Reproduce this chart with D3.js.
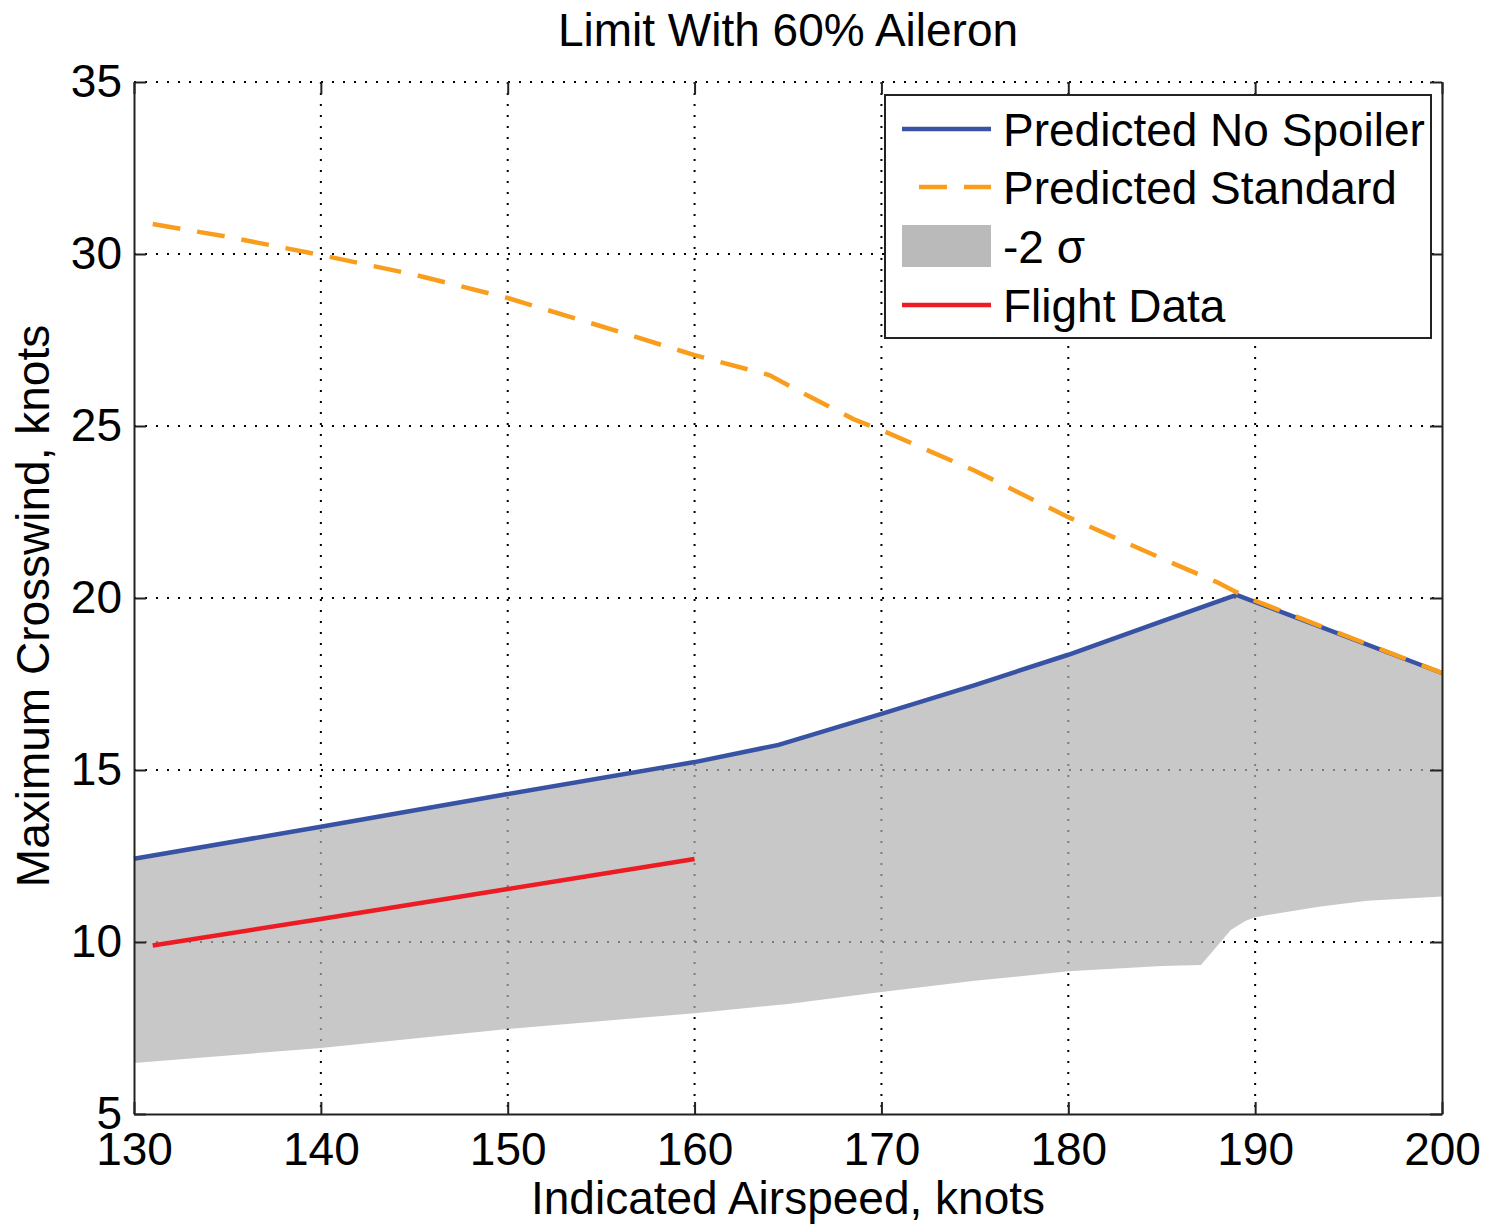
<!DOCTYPE html>
<html>
<head>
<meta charset="utf-8">
<script src="https://cdn.jsdelivr.net/npm/d3@7"></script>
<style>
  body { margin: 0; background: #fff; }
  text { font-family: "Liberation Sans", Arial, Helvetica, sans-serif; fill: #000; }
</style>
</head>
<body>
<script>
var width = 1486;
var height = 1225;

// chart values
var xTicks = [130, 140, 150, 160, 170, 180, 190, 200];
var yTicks = [5, 10, 15, 20, 25, 30, 35];

var noSpoilerSpeed = [130, 140, 150, 160, 164.5, 170, 175, 180, 185, 189, 200];
var noSpoiler      = [12.42, 13.35, 14.3, 15.23, 15.73, 16.63, 17.47, 18.35, 19.32, 20.09, 17.82];

var standardSpeed = [131, 135, 140, 145, 150, 155, 160, 164, 166, 168.5, 170, 175, 180, 185, 188, 189, 190, 200];
var standard      = [30.87, 30.5, 29.97, 29.4, 28.72, 27.9, 27.06, 26.48, 25.9, 25.2, 24.88, 23.7, 22.35, 21.15, 20.45, 20.17, 19.92, 17.82];

var sigmaLowSpeed = [130, 140, 150, 160, 165, 170, 175, 180, 185, 187.1, 188.7, 189.1, 189.5, 190, 191.5, 193.5, 196, 200];
var sigmaLow      = [6.48, 6.92, 7.47, 7.93, 8.2, 8.55, 8.87, 9.15, 9.3, 9.33, 10.35, 10.49, 10.62, 10.72, 10.86, 11.03, 11.2, 11.32];

var flightSpeed = [131, 140, 150, 160];
var flight      = [9.9, 10.67, 11.54, 12.41];

var legendNames = ["Predicted No Spoiler", "Predicted Standard", "-2 \u03c3", "Flight Data"];

var margin = {left: 134, right: 44, top: 82, bottom: 111};
var iw = width - margin.left - margin.right;
var ih = height - margin.top - margin.bottom;

var blue = "#3953a4", orange = "#f99d1c", red = "#ed1c24";

var svg = d3.select("body").append("svg")
  .attr("width", width)
  .attr("height", height);

var g = svg.append("g")
  .attr("transform", "translate(" + margin.left + "," + margin.top + ")");

var x = d3.scaleLinear().domain([130, 200]).range([0, iw]);
var y = d3.scaleLinear().domain([5, 35]).range([ih, 0]);

// grid (under the shaded band)
var grid = g.append("g").attr("class", "grid");
grid.selectAll("line.v").data(xTicks.slice(1, -1)).enter().append("line")
  .attr("x1", function(d) { return x(d); })
  .attr("x2", function(d) { return x(d); })
  .attr("y1", 0).attr("y2", ih);
grid.selectAll("line.h").data(yTicks.slice(1)).enter().append("line")
  .attr("y1", function(d) { return y(d); })
  .attr("y2", function(d) { return y(d); })
  .attr("x1", 0).attr("x2", iw);
grid.selectAll("line")
  .attr("stroke", "#000")
  .attr("stroke-width", 2)
  .attr("stroke-dasharray", "2,9");

// -2 sigma band
var line = d3.line()
  .x(function(d) { return x(d[0]); })
  .y(function(d) { return y(d[1]); });

var upperPts = d3.zip(noSpoilerSpeed, noSpoiler);
var lowerPts = d3.zip(sigmaLowSpeed, sigmaLow).reverse();
g.append("path")
  .attr("d", line(upperPts.concat(lowerPts)) + "Z")
  .attr("fill", "#b0b0b0")
  .attr("fill-opacity", 0.7);

// lines
g.append("path")
  .attr("d", line(upperPts))
  .attr("fill", "none")
  .attr("stroke", blue)
  .attr("stroke-width", 4.5);

g.append("path")
  .attr("d", line(d3.zip(flightSpeed, flight)))
  .attr("fill", "none")
  .attr("stroke", red)
  .attr("stroke-width", 4.5);

g.append("path")
  .attr("d", line(d3.zip(standardSpeed, standard)))
  .attr("fill", "none")
  .attr("stroke", orange)
  .attr("stroke-width", 4.5)
  .attr("stroke-dasharray", "28,17");

// axes
var fontSize = 46;

var xAxis = g.append("g")
  .attr("transform", "translate(0," + ih + ")")
  .call(d3.axisBottom(x).tickValues(xTicks).tickSize(-12).tickSizeOuter(0).tickPadding(18));

var yAxis = g.append("g")
  .call(d3.axisLeft(y).tickValues(yTicks).tickSize(-12).tickSizeOuter(0).tickPadding(12));

var topAxis = g.append("g")
  .call(d3.axisTop(x).tickValues(xTicks).tickSize(-12).tickFormat(""));
topAxis.select(".domain").remove();

var rightAxis = g.append("g")
  .attr("transform", "translate(" + iw + ",0)")
  .call(d3.axisRight(y).tickValues(yTicks).tickSize(-12).tickSizeOuter(0).tickFormat(""));

[xAxis, yAxis, topAxis, rightAxis].forEach(function(a) {
  a.attr("font-size", null).attr("font-family", null);
  a.selectAll(".domain").attr("stroke", "#222").attr("stroke-width", 2);
  a.selectAll(".tick line").attr("stroke", "#222").attr("stroke-width", 2);
  a.selectAll(".tick text").style("font-size", fontSize + "px").attr("fill", "#000");
});

// title and axis labels
svg.append("text")
  .attr("x", margin.left + iw / 2)
  .attr("y", 46)
  .attr("text-anchor", "middle")
  .style("font-size", fontSize + "px")
  .text("Limit With 60% Aileron");

svg.append("text")
  .attr("x", margin.left + iw / 2)
  .attr("y", 1214)
  .attr("text-anchor", "middle")
  .style("font-size", fontSize + "px")
  .text("Indicated Airspeed, knots");

svg.append("text")
  .attr("transform", "translate(49,606) rotate(-90)")
  .attr("text-anchor", "middle")
  .style("font-size", fontSize + "px")
  .text("Maximum Crosswind, knots");

// legend
var lg = svg.append("g").attr("transform", "translate(885,95)");
lg.append("rect")
  .attr("width", 546).attr("height", 243)
  .attr("fill", "#fff")
  .attr("stroke", "#222")
  .attr("stroke-width", 2);

var rowY = [34, 92, 151, 210];
var items = lg.selectAll("g.item").data(legendNames).enter().append("g")
  .attr("transform", function(d, i) { return "translate(0," + rowY[i] + ")"; });

items.each(function(d, i) {
  var it = d3.select(this);
  if (i === 2) {
    it.append("rect").attr("x", 17).attr("y", -21).attr("width", 89).attr("height", 42)
      .attr("fill", "#bababa");
  } else {
    it.append("line").attr("x1", 17).attr("x2", 106).attr("y1", 0).attr("y2", 0)
      .attr("stroke", [blue, orange, null, red][i])
      .attr("stroke-width", 4.5)
      .attr("stroke-dasharray", i === 1 ? "28,17" : null)
      .attr("stroke-dashoffset", i === 1 ? 28 : null);
  }
  it.append("text")
    .attr("x", 118)
    .attr("y", 17)
    .style("font-size", fontSize + "px")
    .text(d);
});
</script>
</body>
</html>
